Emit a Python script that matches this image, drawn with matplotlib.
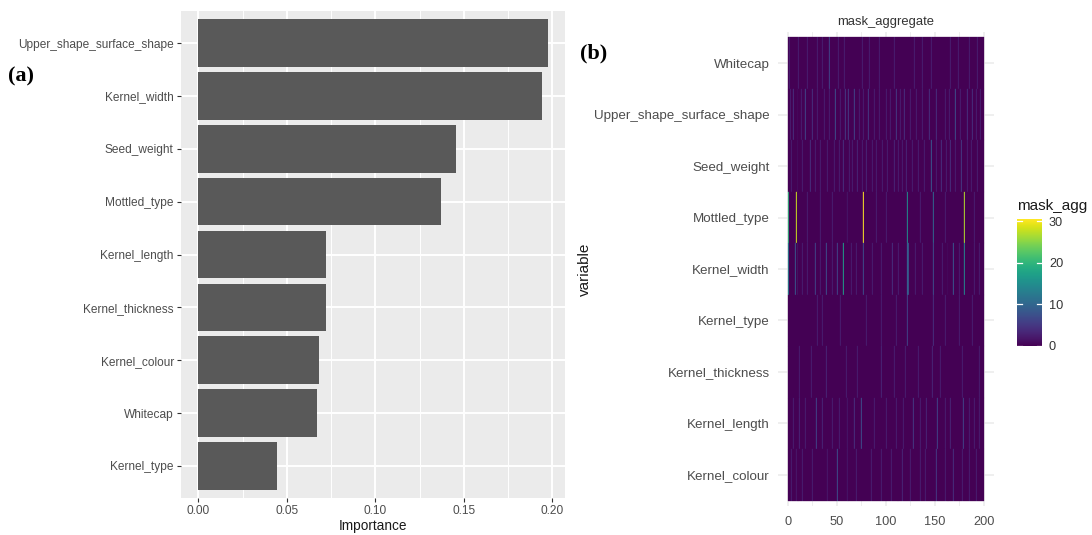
import numpy as np
import matplotlib
matplotlib.use("Agg")
import matplotlib.pyplot as plt
from matplotlib.lines import Line2D

plt.rcParams["font.family"] = ["Liberation Sans", "DejaVu Sans"]

# ---- (a) feature importance ----
imp_features = ["Upper_shape_surface_shape", "Kernel_width", "Seed_weight",
                "Mottled_type", "Kernel_length", "Kernel_thickness",
                "Kernel_colour", "Whitecap", "Kernel_type"]
imp_values = [0.1976, 0.1942, 0.1456, 0.1371, 0.0722, 0.0719, 0.0681, 0.0669, 0.0447]
imp_ticks = [0.00, 0.05, 0.10, 0.15, 0.20]

# ---- (b) aggregated mask heatmap ----
mask_variables = ["Whitecap", "Upper_shape_surface_shape", "Seed_weight",
                  "Mottled_type", "Kernel_width", "Kernel_type",
                  "Kernel_thickness", "Kernel_length", "Kernel_colour"]
n_steps = 200
x_ticks = [0, 50, 100, 150, 200]
cbar_ticks = [0, 10, 20, 30]

# distinct stripes per variable: {step: value}
mask_peaks = [
    {42: 6},
    {5: 4, 18: 6, 25: 4, 48: 7, 58: 5, 62: 5, 68: 6, 82: 5, 110: 5, 119: 4,
     144: 4, 151: 4, 171: 7, 183: 4, 188: 4},
    {10: 4, 23: 4, 56: 4, 71: 3, 80: 3, 108: 3, 121: 3, 146: 8, 156: 4,
     166: 4, 177: 5},
    {0: 20, 8: 28, 77: 30.5, 122: 15, 148: 10, 180: 27},
    {0: 13, 7: 8, 10: 7, 28: 6, 39: 7, 50: 6, 56: 17, 77: 7, 106: 4, 122: 9,
     123: 9, 148: 7, 169: 8, 180: 14},
    {122: 6, 148: 4},
    {39: 3, 95: 3, 147: 3},
    {12: 3, 29: 6, 35: 3, 68: 4, 75: 7, 128: 5, 141: 3, 152: 6, 166: 3, 179: 6},
    {8: 2, 40: 2, 50: 7, 117: 3, 151: 5, 169: 4},
]
# faint stripes per variable (value mask_faint_level)
mask_faint = [
    [1, 11, 20, 30, 35, 51, 57, 76, 83, 93, 108, 129, 137, 146, 166, 174, 185, 193],
    [2, 10, 14, 30, 37, 42, 53, 73, 77, 88, 93, 100, 104, 115, 125, 131, 137,
     160, 165, 176, 192, 196],
    [3, 15, 28, 33, 40, 47, 52, 63, 66, 76, 86, 90, 96, 101, 113, 117, 127,
     133, 139, 151, 161, 171, 183, 187, 193],
    [20, 33, 45, 60, 90, 100, 135, 160, 190],
    [15, 20, 33, 45, 65, 70, 86, 95, 113, 130, 137, 157, 163, 175, 190, 195],
    [30, 35, 53, 80, 95, 110, 160, 175, 188],
    [12, 24, 59, 71, 108, 120, 133, 155, 178, 195],
    [5, 18, 45, 52, 60, 88, 100, 110, 118, 135, 160, 185, 190, 195],
    [3, 15, 25, 60, 70, 85, 95, 105, 125, 135, 140, 160, 178, 185, 192],
]
mask_faint_level = 2.5

mask = np.zeros((len(mask_variables), n_steps))
for r in range(len(mask_variables)):
    for c in mask_faint[r]:
        mask[r, c] = mask_faint_level
    for c, v in mask_peaks[r].items():
        mask[r, c] = v

W, H = 1092, 535
fig = plt.figure(figsize=(W / 100, H / 100), dpi=100)
fig.patch.set_facecolor("white")


def fig_rect(x0, y0, x1, y1):
    return [x0 / W, 1 - y1 / H, (x1 - x0) / W, (y1 - y0) / H]


# ---------------- panel (a) ----------------
ax1 = fig.add_axes(fig_rect(180.8, 11.3, 565.5, 497.7))
ax1.set_facecolor("#EBEBEB")
ypos = np.arange(1, len(imp_features) + 1)
xmax = max(imp_values)
ax1.set_xlim(-0.05 * xmax, 1.05 * xmax)
ax1.set_ylim(len(imp_features) + 0.6, 0.4)
for t in np.arange(0.025, 0.21, 0.05):
    ax1.axvline(t, color="white", lw=0.7, zorder=0)
for t in imp_ticks:
    ax1.axvline(t, color="white", lw=1.4, zorder=0)
for y in ypos:
    ax1.axhline(y, color="white", lw=1.4, zorder=0)
ax1.barh(ypos, imp_values, height=0.9, color="#595959", zorder=2)
ax1.set_yticks(ypos)
ax1.set_yticklabels(imp_features)
ax1.set_xticks(imp_ticks)
ax1.set_xticklabels([f"{t:.2f}" for t in imp_ticks])
for s in ax1.spines.values():
    s.set_visible(False)
ax1.tick_params(axis="both", length=3, width=0.8, color="#333333",
                labelcolor="#4D4D4D", labelsize=8.6, pad=2)
ax1.set_xlabel("Importance", fontsize=9.8, color="#1A1A1A", labelpad=2)

# ---------------- panel (b) ----------------
ax2 = fig.add_axes(fig_rect(777.9, 32.15, 993.6, 505.85))
ax2.set_facecolor("white")
ax2.set_xlim(-10, 210)
ax2.set_ylim(len(mask_variables) + 0.6, 0.4)
for t in [25, 75, 125, 175]:
    ax2.axvline(t, color="#EBEBEB", lw=0.6, zorder=0)
for t in x_ticks:
    ax2.axvline(t, color="#EBEBEB", lw=1.1, zorder=0)
for y in range(1, len(mask_variables) + 1):
    ax2.axhline(y, color="#EBEBEB", lw=1.1, zorder=0)
x_edges = np.arange(n_steps + 1)
y_edges = np.arange(len(mask_variables) + 1) + 0.5
# dark underlay so sub-pixel seams between tiles stay dark
ax2.fill_between([0, n_steps], 0.5, len(mask_variables) + 0.5,
                 color=plt.get_cmap("viridis")(0.0), lw=0, zorder=0.5)
im = ax2.pcolormesh(x_edges, y_edges, mask, cmap="viridis",
                    vmin=mask.min(), vmax=mask.max(), shading="flat",
                    edgecolors="face", linewidth=0.2, antialiased=True,
                    zorder=1)
ax2.set_yticks(range(1, len(mask_variables) + 1))
ax2.set_yticklabels(mask_variables)
ax2.set_xticks(x_ticks)
for s in ax2.spines.values():
    s.set_visible(False)
ax2.tick_params(axis="y", length=0, labelcolor="#4D4D4D", labelsize=9.6, pad=6)
ax2.tick_params(axis="x", length=0, labelcolor="#4D4D4D", labelsize=9.2, pad=7)
ax2.set_title("mask_aggregate", fontsize=9.4, color="#333333", pad=5)
fig.text(585 / W, 1 - 269 / H, "variable", rotation=90, fontsize=11,
         color="#1A1A1A", ha="center", va="center")

# colour bar
cax = fig.add_axes(fig_rect(1017, 219.3, 1042, 345.6))
cb = fig.colorbar(im, cax=cax)
cb.outline.set_visible(False)
cb.set_ticks(cbar_ticks)
cax.tick_params(length=0, labelsize=9.2, labelcolor="#333333", pad=5)
for t in cbar_ticks:
    for xs in ([0, 0.2], [0.8, 1.0]):
        cax.add_line(Line2D(xs, [t, t], transform=cax.get_yaxis_transform(),
                            color="white", lw=0.9))
fig.text(1017 / W, 1 - 210 / H, "mask_agg", fontsize=11,
         color="#1A1A1A", ha="left", va="baseline")

# panel letters
fig.text(21 / W, 1 - 76 / H, "(a)", family="Liberation Serif", weight="bold",
         fontsize=16, ha="center", va="center")
fig.text(594 / W, 1 - 53 / H, "(b)", family="Liberation Serif", weight="bold",
         fontsize=16, ha="center", va="center")

fig.savefig("out.png", dpi=100)
